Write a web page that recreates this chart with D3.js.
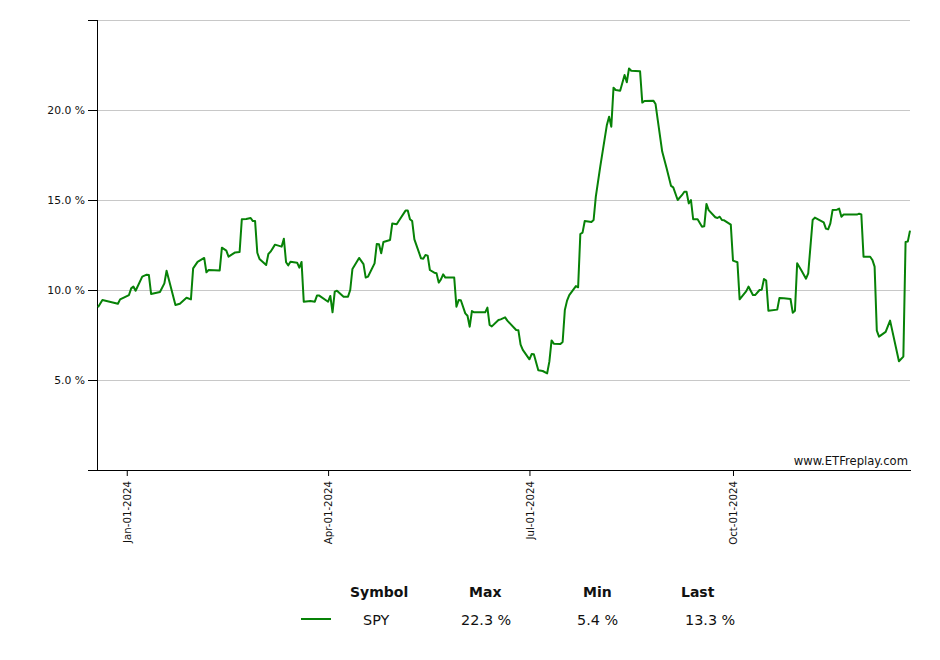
<!DOCTYPE html>
<html>
<head>
<meta charset="utf-8">
<script src="https://cdn.jsdelivr.net/npm/d3@7/dist/d3.min.js"></script>
<style>
  html, body { margin: 0; padding: 0; background: #fff; }
  svg { display: block; font-family: "DejaVu Sans", Verdana, sans-serif; }
</style>
</head>
<body>
<svg id="chart" width="940" height="660"></svg>
<script>
// ---- Data ----
const seriesName = "SPY";
const dates = [
"2023-12-19","2023-12-21","2023-12-28","2023-12-29","2024-01-02","2024-01-03","2024-01-04","2024-01-05",
"2024-01-08","2024-01-10","2024-01-11","2024-01-12","2024-01-16","2024-01-18","2024-01-19","2024-01-23",
"2024-01-25","2024-01-28","2024-01-30","2024-01-31","2024-02-02","2024-02-05","2024-02-06","2024-02-07",
"2024-02-12","2024-02-13","2024-02-15","2024-02-16","2024-02-19","2024-02-21","2024-02-22","2024-02-24",
"2024-02-26","2024-02-27","2024-02-28","2024-02-29","2024-03-01","2024-03-04","2024-03-05","2024-03-06",
"2024-03-08","2024-03-11","2024-03-12","2024-03-13","2024-03-14","2024-03-15","2024-03-18","2024-03-19",
"2024-03-20","2024-03-21","2024-03-24","2024-03-26","2024-03-27","2024-03-28","2024-04-01","2024-04-02",
"2024-04-03","2024-04-04","2024-04-05","2024-04-08","2024-04-10","2024-04-11","2024-04-12","2024-04-15",
"2024-04-17","2024-04-18","2024-04-19","2024-04-22","2024-04-23","2024-04-24","2024-04-25","2024-04-26",
"2024-04-29","2024-04-30","2024-05-02","2024-05-03","2024-05-06","2024-05-07","2024-05-08","2024-05-09",
"2024-05-10","2024-05-13","2024-05-14","2024-05-15","2024-05-16","2024-05-17","2024-05-19","2024-05-20",
"2024-05-21","2024-05-22","2024-05-23","2024-05-24","2024-05-28","2024-05-29","2024-05-30","2024-05-31",
"2024-06-02","2024-06-03","2024-06-04","2024-06-05","2024-06-06","2024-06-11","2024-06-12","2024-06-13",
"2024-06-14","2024-06-17","2024-06-18","2024-06-20","2024-06-21","2024-06-25","2024-06-26","2024-06-27",
"2024-06-28","2024-07-01","2024-07-02","2024-07-03","2024-07-05","2024-07-07","2024-07-09","2024-07-10",
"2024-07-11","2024-07-12","2024-07-15","2024-07-16","2024-07-17","2024-07-18","2024-07-19","2024-07-22",
"2024-07-23","2024-07-24","2024-07-25","2024-07-26","2024-07-29","2024-07-30","2024-07-31","2024-08-02",
"2024-08-05","2024-08-06","2024-08-07","2024-08-08","2024-08-09","2024-08-11","2024-08-13","2024-08-14",
"2024-08-15","2024-08-16","2024-08-20","2024-08-21","2024-08-22","2024-08-26","2024-08-27","2024-08-28",
"2024-08-30","2024-09-01","2024-09-03","2024-09-04","2024-09-06","2024-09-08","2024-09-09","2024-09-10",
"2024-09-11","2024-09-12","2024-09-13","2024-09-15","2024-09-17","2024-09-18","2024-09-19","2024-09-20",
"2024-09-23","2024-09-24","2024-09-25","2024-09-26","2024-09-27","2024-09-30","2024-10-01","2024-10-03",
"2024-10-04","2024-10-07","2024-10-08","2024-10-10","2024-10-11","2024-10-13","2024-10-14","2024-10-15",
"2024-10-16","2024-10-17","2024-10-21","2024-10-22","2024-10-24","2024-10-27","2024-10-28","2024-10-29",
"2024-10-30","2024-11-01","2024-11-03","2024-11-04","2024-11-06","2024-11-07","2024-11-11","2024-11-12",
"2024-11-13","2024-11-14","2024-11-15","2024-11-17","2024-11-18","2024-11-19","2024-11-20","2024-11-26",
"2024-11-27","2024-11-28","2024-11-29","2024-12-02","2024-12-03","2024-12-04","2024-12-05","2024-12-06",
"2024-12-09","2024-12-11","2024-12-15","2024-12-17","2024-12-18","2024-12-19","2024-12-20"
];
const values = [
9.04,9.44,9.24,9.48,9.72,10.09,10.19,9.96,
10.74,10.85,10.83,9.78,9.89,10.37,11.07,9.17,
9.24,9.57,9.48,11.20,11.56,11.78,10.98,11.11,
11.09,12.35,12.19,11.85,12.09,12.11,13.93,13.94,
14.00,13.83,13.83,12.07,11.72,11.39,12.00,12.13,
12.52,12.41,12.85,11.54,11.37,11.57,11.52,11.24,
11.56,9.35,9.39,9.35,9.70,9.69,9.35,9.67,
8.76,9.91,9.96,9.63,9.63,10.00,11.17,11.78,
11.44,10.69,10.74,11.48,12.56,12.54,12.04,12.67,
12.78,13.70,13.65,13.85,14.41,14.41,13.93,13.83,
12.81,11.76,11.74,11.94,11.91,11.11,10.96,10.93,
10.41,10.59,10.87,10.69,10.69,9.07,9.44,9.43,
8.70,8.57,7.96,8.83,8.76,8.76,9.02,8.06,
7.98,8.33,8.37,8.48,8.30,7.78,7.76,6.96,
6.67,6.15,6.44,6.43,5.54,5.50,5.37,6.02,
7.20,7.02,7.00,7.11,8.89,9.41,9.72,10.22,
10.15,13.11,13.19,13.83,13.78,13.89,15.19,16.85,
19.17,19.63,19.07,21.24,21.11,21.07,21.94,21.54,
22.31,22.18,22.15,20.41,20.50,20.52,20.33,19.44,
17.69,16.76,15.78,15.70,15.00,15.28,15.46,15.46,
14.81,15.00,13.93,13.93,13.52,13.54,14.78,14.44,
14.04,14.00,14.07,13.89,13.87,13.63,11.63,11.54,
9.48,9.94,10.19,9.72,9.72,10.00,10.02,10.61,
10.52,8.85,8.91,9.56,9.54,9.50,8.74,8.85,
11.48,11.07,10.63,10.93,13.89,14.02,13.76,13.41,
13.37,13.70,14.44,14.46,14.52,14.07,14.19,14.19,
14.24,14.20,11.85,11.85,11.67,11.30,7.74,7.41,
7.67,8.30,6.04,6.30,12.67,12.69,13.30
];
const yTicks = [0, 5, 10, 15, 20, 25];
const yLabelTicks = [5, 10, 15, 20];
const xTickDates = ["2024-01-01","2024-04-01","2024-07-01","2024-10-01"];
const legendHeaders = ["Symbol", "Max", "Min", "Last"];
const watermark = "www.ETFreplay.com";

// ---- Build ----
(function () {
const parse = d3.timeParse("%Y-%m-%d");
const data = dates.map((d, i) => ({ date: parse(d), value: values[i] }));

const svg = d3.select("#chart");
const pL = 98, pR = 910, pT = 20, pB = 470;
const lineColor = "#078207";

const x = d3.scaleTime()
  .domain([parse("2023-12-19"), parse("2024-12-20")])
  .range([pL, pR]);
const y = d3.scaleLinear().domain([0, 25]).range([pB, pT]);

// gridlines
const grid = svg.append("g").attr("transform", `translate(${pL},0)`)
  .call(d3.axisLeft(y).tickValues(yTicks.filter(v => v > 0)).tickSize(-(pR - pL)).tickFormat(""));
grid.select(".domain").remove();
grid.selectAll(".tick line").attr("stroke", "#c8c8c8").attr("stroke-width", 1);

// y axis
const yAxis = svg.append("g").attr("transform", `translate(${pL - 1},0)`)
  .call(d3.axisLeft(y).tickValues(yTicks).tickSize(9).tickPadding(3)
    .tickFormat(v => yLabelTicks.includes(v) ? d3.format(".1f")(v) + " %" : ""));
yAxis.select(".domain").remove();
yAxis.selectAll(".tick line").attr("stroke", "#000");
yAxis.selectAll(".tick text").attr("fill", "#111").style("font-size", "10.8px")
  .style("font-family", "'DejaVu Sans', Verdana, sans-serif");
yAxis.append("line").attr("x1", 0.5).attr("x2", 0.5).attr("y1", pT).attr("y2", pB + 0.5)
  .attr("stroke", "#000");

// x axis
const xAxis = svg.append("g").attr("transform", `translate(0,${pB})`)
  .call(d3.axisBottom(x).tickValues(xTickDates.map(parse)).tickSize(6).tickFormat(d3.timeFormat("%b-%d-%Y")));
xAxis.select(".domain").remove();
xAxis.selectAll(".tick line").attr("stroke", "#000");
xAxis.selectAll(".tick text")
  .attr("fill", "#111")
  .style("font-size", "10.2px")
  .style("font-family", "'DejaVu Sans', Verdana, sans-serif")
  .attr("text-anchor", "end")
  .attr("transform", "translate(0,11) rotate(-90)")
  .attr("x", 0).attr("y", 0).attr("dy", "0.35em");
xAxis.append("line").attr("x1", pL - 10).attr("x2", pR + 1).attr("y1", 0.5).attr("y2", 0.5)
  .attr("stroke", "#000");

// series line
const line = d3.line().x(d => x(d.date)).y(d => y(d.value));
svg.append("path").datum(data)
  .attr("fill", "none")
  .attr("stroke", lineColor)
  .attr("stroke-width", 2)
  .attr("stroke-linejoin", "round")
  .attr("d", line);

// watermark
svg.append("text").attr("x", 908).attr("y", 465).attr("text-anchor", "end")
  .style("font-size", "11.6px").attr("fill", "#111").text(watermark);

// legend
const maxV = d3.max(values), minV = d3.min(values), lastV = values[values.length - 1];
const hdrX = [350, 469, 583, 681];
const valX = [363, 461, 577, 685];
const lg = svg.append("g");
legendHeaders.forEach((h, i) => {
  lg.append("text").attr("x", hdrX[i]).attr("y", 597)
    .style("font-size", "14px").style("font-weight", "bold").attr("fill", "#111").text(h);
});
const rowVals = [seriesName, maxV.toFixed(1) + " %", minV.toFixed(1) + " %", lastV.toFixed(1) + " %"];
rowVals.forEach((t, i) => {
  lg.append("text").attr("x", valX[i]).attr("y", 625)
    .style("font-size", "14.4px").attr("fill", "#111").text(t);
});
lg.append("line").attr("x1", 301).attr("x2", 331).attr("y1", 619).attr("y2", 619)
  .attr("stroke", lineColor).attr("stroke-width", 2);
})();
</script>
</body>
</html>
